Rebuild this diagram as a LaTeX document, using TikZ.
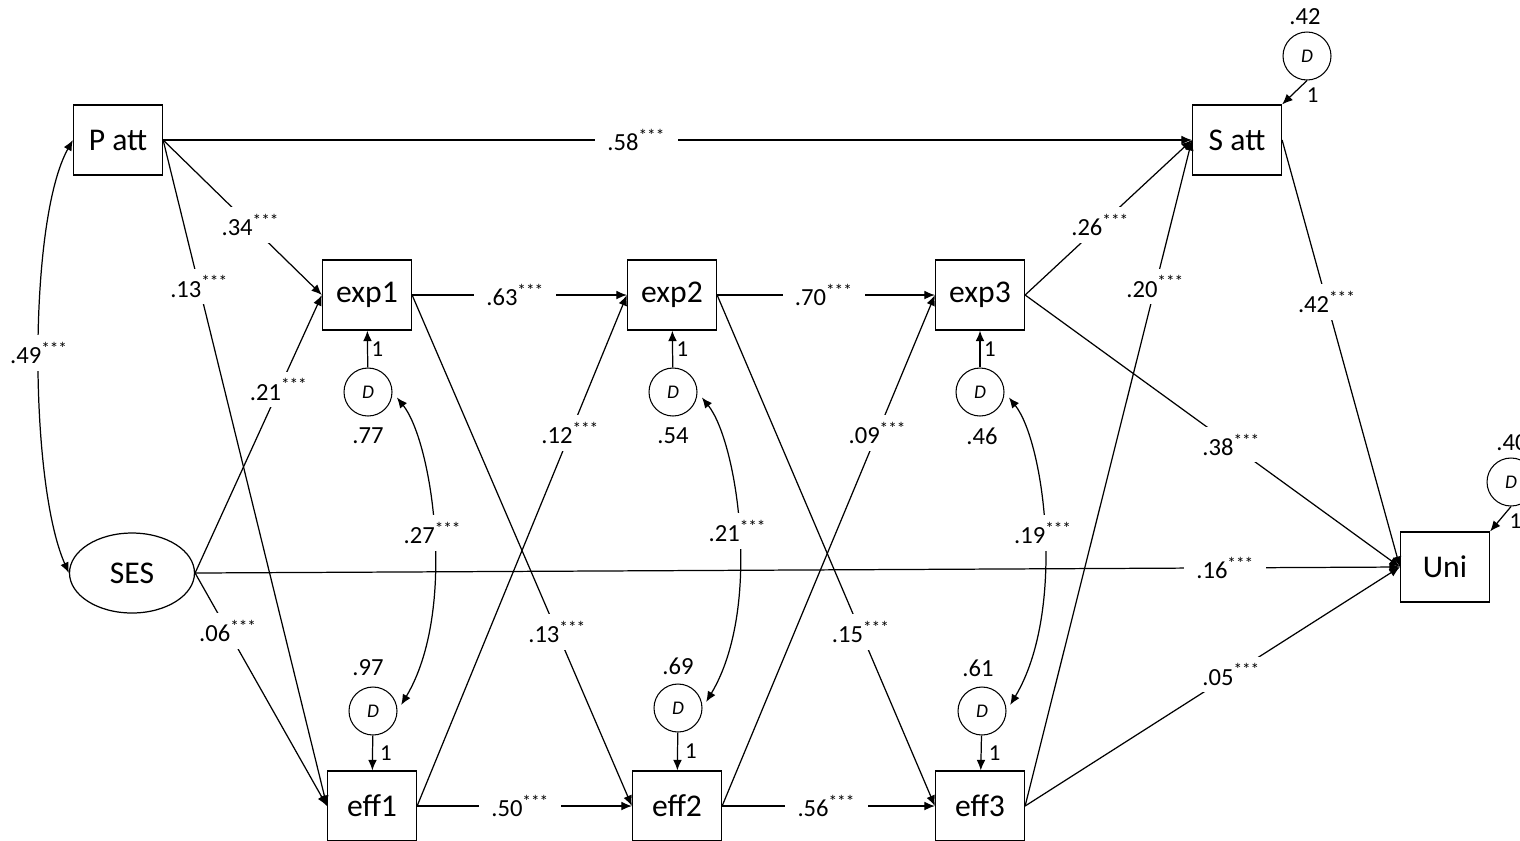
\documentclass[tikz,border=0pt]{standalone}
\usepackage{fontspec}
\setmainfont{Carlito}
\usetikzlibrary{arrows.meta,shapes.geometric}

\newcommand{\stars}[1]{#1\textsuperscript{***}}

\begin{document}
\begin{tikzpicture}[x=0.02cm,y=-0.02cm,
  obs/.style={draw,line width=0.7pt,minimum width=1.78cm,minimum height=1.4cm,inner sep=0pt,font=\fontsize{18}{21}\selectfont},
  lat/.style={draw,ellipse,line width=0.7pt,minimum width=2.5cm,minimum height=1.6cm,inner sep=0pt,font=\fontsize{18}{21}\selectfont},
  dist/.style={draw,circle,line width=0.6pt,minimum size=0.96cm,inner sep=0pt,font=\fontsize{11}{13}\selectfont\itshape},
  arr/.style={line width=0.7pt,-{Latex[length=6pt,width=5pt]}},
  cov/.style={line width=0.7pt,{Latex[length=6pt,width=5pt]}-{Latex[length=6pt,width=5pt]}},
  dcov/.style={cov,shorten <=4pt,shorten >=4pt},
  coef/.style={fill=white,inner xsep=7pt,inner ysep=4pt,font=\fontsize{14}{16}\selectfont},
  num/.style={font=\fontsize{14}{16}\selectfont,inner sep=1pt},
  one/.style={right,inner sep=2pt,font=\fontsize{13}{15}\selectfont}]

\useasboundingbox (0,0) rectangle (1520,840);

% observed and latent variables
\node[obs] (patt) at (118,140) {P att};
\node[obs] (satt) at (1237,140) {S att};
\node[lat] (ses) at (132,573) {SES};
\node[obs] (exp1) at (367,295) {exp1};
\node[obs] (exp2) at (672,295) {exp2};
\node[obs] (exp3) at (980,295) {exp3};
\node[obs] (eff1) at (372,806) {eff1};
\node[obs] (eff2) at (677,806) {eff2};
\node[obs] (eff3) at (980,806) {eff3};
\node[obs] (uni) at (1445,567) {Uni};

% disturbances
\node[dist] (d1) at (368,392) {D};
\node[dist] (d2) at (673,392) {D};
\node[dist] (d3) at (980,392) {D};
\node[dist] (d4) at (373,711) {D};
\node[dist] (d5) at (678,708) {D};
\node[dist] (d6) at (982,711) {D};
\node[dist] (dsatt) at (1307,56) {D};
\node[dist] (duni) at (1511,482) {D};

\node[num] (v1) at (368,436) {.77};
\node[num] (v2) at (673,436) {.54};
\node[num] (v3) at (982,436) {.46};
\node[num] (v4) at (368,668) {.97};
\node[num] (v5) at (678,666) {.69};
\node[num] (v6) at (978,668) {.61};
\node[num] (vsatt) at (1305,17) {.42};
\node[num] (vuni) at (1512,443) {.40};

\draw[arr] (d1) -- node[one] {1} (exp1);
\draw[arr] (d2) -- node[one] {1} (exp2);
\draw[arr] (d3) -- node[one] {1} (exp3);
\draw[arr] (d4) -- node[one,inner sep=4pt] {1} (eff1);
\draw[arr] (d5) -- node[one,inner sep=4pt] {1} (eff2);
\draw[arr] (d6) -- node[one,inner sep=4pt] {1} (eff3);
\draw[arr] (dsatt.south) -- node[one,pos=0.6,xshift=6pt] {1} (satt.north east);
\draw[arr] (duni.south) -- node[one,pos=0.6,xshift=4pt] {1} (uni.north east);

% paths
\draw[arr] (patt.east) -- node[coef,pos=0.46] {\stars{.58}} (satt.west);
\draw[arr] (patt.east) -- node[coef,pos=0.55] {\stars{.34}} (exp1.west);
\draw[arr] (patt.east) -- node[coef,pos=0.22] {\stars{.13}} (eff1.west);
\draw[arr] (ses.east) -- node[coef,pos=0.66] {\stars{.21}} (exp1.west);
\draw[arr] (ses.east) -- node[coef,pos=0.25] {\stars{.06}} (eff1.west);
\draw[arr] (ses.east) -- node[coef,pos=0.855] {\stars{.16}} (uni.west);

\draw[arr] (exp1) -- node[coef,pos=0.48] {\stars{.63}} (exp2);
\draw[arr] (exp2) -- node[coef,pos=0.49] {\stars{.70}} (exp3);
\draw[arr] (eff1) -- node[coef,pos=0.48] {\stars{.50}} (eff2);
\draw[arr] (eff2) -- node[coef,pos=0.49] {\stars{.56}} (eff3);

\draw[arr] (eff1.east) -- node[coef,pos=0.73] {\stars{.12}} (exp2.west);
\draw[arr] (eff2.east) -- node[coef,pos=0.73] {\stars{.09}} (exp3.west);
\draw[arr] (exp1.east) -- node[coef,pos=0.66] {\stars{.13}} (eff2.west);
\draw[arr] (exp2.east) -- node[coef,pos=0.66] {\stars{.15}} (eff3.west);

\draw[arr] (exp3.east) -- node[coef,pos=0.45] {\stars{.26}} (satt.west);
\draw[arr] (eff3.east) -- node[coef,pos=0.78] {\stars{.20}} (satt.west);
\draw[arr] (satt.east) -- node[coef,pos=0.38] {\stars{.42}} (uni.west);
\draw[arr] (exp3.east) -- node[coef,pos=0.55] {\stars{.38}} (uni.west);
\draw[arr] (eff3.east) -- node[coef,pos=0.55] {\stars{.05}} (uni.west);

% covariances
\draw[cov] (patt.west) .. controls +(-45,80) and +(-40,-90) .. node[coef] {\stars{.49}} (ses.west);
\draw[dcov] (d1.east) .. controls +(40,50) and +(60,-100) .. node[coef] {\stars{.27}} (d4.east);
\draw[dcov] (d2.east) .. controls +(40,50) and +(60,-100) .. node[coef] {\stars{.21}} (d5.east);
\draw[dcov] (d3.east) .. controls +(40,50) and +(60,-100) .. node[coef] {\stars{.19}} (d6.east);

\end{tikzpicture}
\end{document}
